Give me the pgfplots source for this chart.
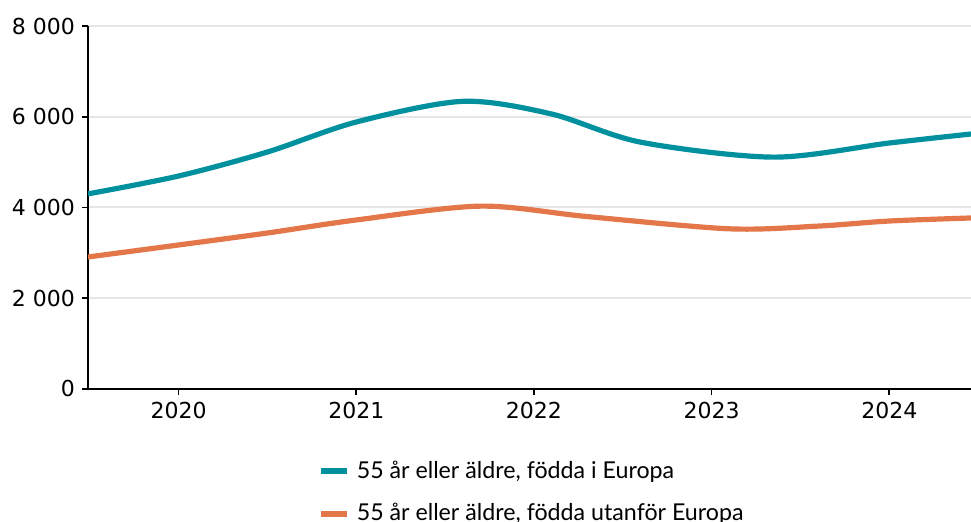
\documentclass[border=0pt]{standalone}
\usepackage{fontspec}
\setmainfont{DejaVu Sans}
\newfontfamily\lato{Lato}
\usepackage{pgfplots}
\pgfplotsset{compat=1.18}
\definecolor{teal1}{HTML}{00909E}
\definecolor{orange1}{HTML}{E3774A}
\definecolor{gridgray}{HTML}{E6E6E6}
\begin{document}
\begin{tikzpicture}
\begin{axis}[
  width=441.5pt, height=181.5pt, scale only axis,
  xmin=2019.49, xmax=2024.46,
  ymin=0, ymax=8000,
  axis lines=left,
  axis line style={line width=0.8pt, -},
  xtick={2020,2021,2022,2023,2024},
  ytick={0,2000,4000,6000,8000},
  xticklabel style={/pgf/number format/1000 sep={}},
  yticklabel style={/pgf/number format/1000 sep={\ }},
  /pgf/number format/assume math mode=true,
  tick label style={font=\fontsize{11}{13}\selectfont},
  tick style={black, line width=0.8pt},
  tick align=outside, major tick length=3pt,
  ymajorgrids, grid style={gridgray, line width=1pt},
  xtick pos=bottom, ytick pos=left,
  legend style={at={(0.253,-0.175)}, anchor=north west, draw=none,
    font=\lato\fontsize{11.6}{13}\selectfont, row sep=7pt,
    legend cell align=left, nodes={inner xsep=3.5pt}},
  legend image code/.code={\draw[line width=3pt] (0pt,0pt) -- (13pt,0pt);},
]
\coordinate (sw) at (rel axis cs:0,0);
\coordinate (ne) at (rel axis cs:1,1);
\addplot[teal1, line width=2.6pt, smooth] coordinates {
  (2019.49,4300) (2020,4694) (2020.5,5223) (2021,5884) (2021.6,6340)
  (2022.1,6060) (2022.6,5440) (2023.35,5110) (2024,5421) (2024.46,5620)
};
\addlegendentry{55 år eller äldre, födda i Europa}
\addplot[orange1, line width=2.6pt, smooth] coordinates {
  (2019.49,2909) (2020,3174) (2020.5,3438) (2021,3725) (2021.7,4030)
  (2022.3,3800) (2023.1,3530) (2023.6,3590) (2024,3702) (2024.46,3769)
};
\addlegendentry{55 år eller äldre, födda utanför Europa}
\end{axis}
\pgfresetboundingbox
\path[use as bounding box] ([xshift=-44pt,yshift=-66.5pt]sw) rectangle ([yshift=13pt]ne);
\end{tikzpicture}
\end{document}
